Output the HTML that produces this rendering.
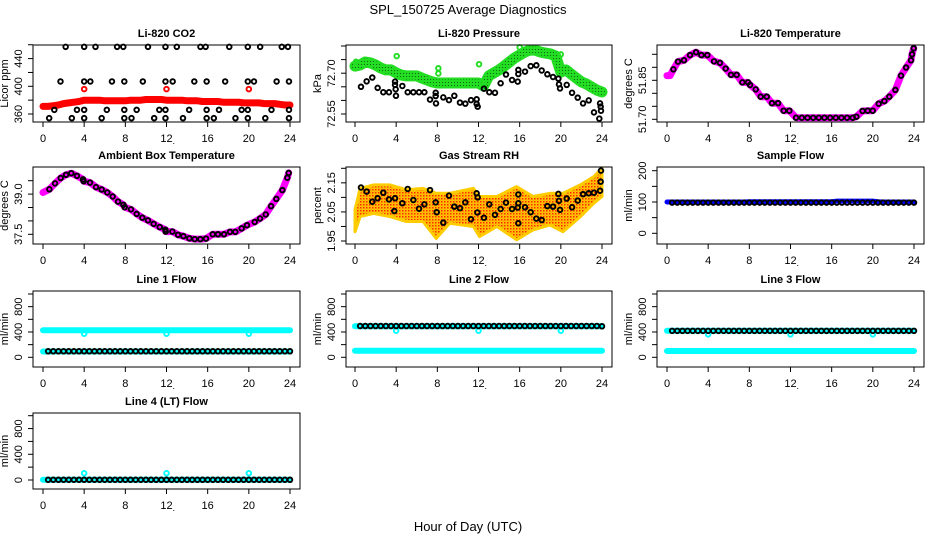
<!DOCTYPE html>
<html><head><meta charset="utf-8"><title>SPL_150725 Average Diagnostics</title>
<style>
html,body{margin:0;padding:0;background:#fff;}
svg{display:block;font-family:"Liberation Sans",Arial,sans-serif;}
</style></head>
<body>
<svg id="chart" width="936" height="540" viewBox="0 0 936 540" xmlns="http://www.w3.org/2000/svg">
<defs>
<pattern id="rhpat" width="3" height="3" patternUnits="userSpaceOnUse"><rect width="3" height="3" fill="#ffcc00"/><rect x="0" y="0" width="1.5" height="1.5" fill="#ff2200"/><rect x="1.5" y="1.5" width="1.5" height="1.5" fill="#ffaa00"/></pattern>
<pattern id="grpat" width="3" height="3" patternUnits="userSpaceOnUse"><rect width="3" height="3" fill="#22dd22"/><rect x="1" y="1" width="1" height="1" fill="#116611"/></pattern>
</defs>
<text x="468" y="14" text-anchor="middle" font-size="13">SPL_150725  Average Diagnostics</text>
<text x="468" y="531" text-anchor="middle" font-size="13">Hour of Day (UTC)</text>
</svg>
<script>
// ---------- data ----------
const xTicks = [0,4,8,12,16,20,24];
const H49 = [0,0.5,1,1.5,2,2.5,3,3.5,4,4.5,5,5.5,6,6.5,7,7.5,8,8.5,9,9.5,10,10.5,11,11.5,12,12.5,13,13.5,14,14.5,15,15.5,16,16.5,17,17.5,18,18.5,19,19.5,20,20.5,21,21.5,22,22.5,23,23.5,24];
const H48 = [0.5,1,1.5,2,2.5,3,3.5,4,4.5,5,5.5,6,6.5,7,7.5,8,8.5,9,9.5,10,10.5,11,11.5,12,12.5,13,13.5,14,14.5,15,15.5,16,16.5,17,17.5,18,18.5,19,19.5,20,20.5,21,21.5,22,22.5,23,23.5,24];
const outlierHours = [4,12,20];

// CO2
const co2Red = [371,371,372,373,375,376,377,378,380,380,380,380,379,379,379,379,379,380,380,380,381,381,381,381,380,380,380,380,379,379,379,378,378,378,378,377,377,377,377,376,376,376,376,375,375,375,374,373,373];
const co2RedOut = [396,396,396];
const co2BlackH = [2.2,4.0,5.1,7.2,7.8,10.2,11.9,13.0,15.3,15.8,18.1,19.9,21.1,23.2,23.8, 1.7,4.0,4.6,6.7,7.9,9.7,11.9,12.6,14.7,15.9,17.7,19.9,20.5,22.7,23.9, 1.1,3.3,4.0,6.2,7.9,9.1,11.3,11.9,14.2,15.9,17.1,19.3,19.9,22.2,23.9, 0.6,2.8,4.0,5.7,7.9,8.6,10.8,11.9,13.6,15.9,16.6,18.7,19.9,21.6,23.9];
const co2BlackV = [457,457,457,457,457,457,457,457,457,457,457,457,457,457,457, 407,407,407,407,407,407,407,407,407,407,407,407,407,407,407, 366,366,366,366,366,366,366,366,366,366,366,366,366,366,366, 354,354,354,354,354,354,354,354,354,354,354,354,354,354,354];

// Pressure
const presGreen = [72.726,72.730,72.741,72.738,72.730,72.719,72.712,72.712,72.701,72.693,72.690,72.690,72.690,72.682,72.675,72.668,72.664,72.664,72.664,72.664,72.664,72.664,72.664,72.664,72.664,72.653,72.690,72.701,72.712,72.726,72.741,72.756,72.767,72.778,72.785,72.785,72.778,72.774,72.771,72.763,72.704,72.712,72.697,72.682,72.668,72.660,72.649,72.638,72.631];
const presGreenOutH = [0.1,4.05,8.1,8.1,12.05,16.0,20.0,12.47];
const presGreenOutV = [72.742,72.763,72.718,72.699,72.733,72.795,72.769,72.657];
const presBlackH = [0.58,1.13,1.68,2.2,2.75,3.3,3.89,3.89,3.95,3.98,4.6,5.12,5.67,6.22,6.74,7.29,7.84,7.84,7.87,8.58,9.13,9.65,10.2,10.72,11.27,11.82,11.82,11.92,12.53,13.05,13.6,14.15,14.67,15.26,15.81,15.87,15.87,16.52,17.07,17.62,18.14,18.69,19.24,19.76,19.82,19.92,20.57,21.09,21.64,22.16,22.71,23.22,23.81,23.87,23.9,23.74];
const presBlackV = [72.650,72.670,72.684,72.646,72.630,72.630,72.669,72.657,72.641,72.617,72.653,72.630,72.630,72.630,72.630,72.603,72.628,72.616,72.589,72.611,72.601,72.617,72.592,72.588,72.601,72.604,72.587,72.577,72.643,72.630,72.628,72.663,72.695,72.675,72.669,72.712,72.697,72.706,72.726,72.729,72.710,72.696,72.686,72.680,72.659,72.644,72.657,72.628,72.610,72.589,72.600,72.556,72.589,72.577,72.562,72.533];

// Li-820 temperature
const ltH = [0,0.3,0.62,1.07,1.65,2.24,2.82,3.34,3.92,4.57,5.15,5.7,6.22,6.77,7.32,7.87,8.07,8.62,9.1,9.69,10.2,10.79,11.34,11.89,12.54,13.1,13.65,14.2,14.75,15.3,15.85,16.4,16.95,17.5,18.05,18.4,19.0,19.5,19.99,20.57,21.12,21.6,22.19,22.74,23.23,23.71,23.81,23.97];
const ltV = [51.868,51.868,51.892,51.922,51.927,51.947,51.958,51.947,51.947,51.923,51.917,51.895,51.871,51.871,51.842,51.842,51.832,51.815,51.787,51.787,51.762,51.762,51.733,51.733,51.706,51.706,51.706,51.706,51.706,51.706,51.706,51.706,51.706,51.706,51.706,51.710,51.732,51.733,51.733,51.760,51.770,51.787,51.813,51.868,51.899,51.927,51.950,51.973];

// Ambient box temperature
const abH = [0,0.62,1.17,1.72,2.24,2.75,3.3,3.89,3.95,4.57,5.15,5.7,6.25,6.77,7.29,7.81,7.94,8.55,9.1,9.65,10.2,10.75,11.34,11.89,11.92,12.57,13.12,13.64,14.22,14.74,15.29,15.84,16.49,17.0,17.59,18.17,18.69,19.3,19.82,20.57,21.09,21.64,22.16,22.67,23.26,23.74,23.87];
const abV = [39.06,39.18,39.40,39.60,39.72,39.78,39.68,39.55,39.48,39.43,39.26,39.17,39.06,38.91,38.72,38.60,38.51,38.43,38.26,38.12,38.02,37.89,37.77,37.67,37.60,37.60,37.48,37.43,37.35,37.32,37.32,37.34,37.50,37.50,37.50,37.59,37.59,37.72,37.84,37.96,38.09,38.24,38.55,38.82,39.15,39.61,39.79];

// Gas stream RH
const rhEnvH = [0,0.5,1.8,3.4,5,6.6,7.9,9.2,11.5,12.1,13.8,15.7,17.3,18.95,20.2,21.9,23.2,24];
const rhHi = [2.057,2.131,2.143,2.143,2.126,2.131,2.114,2.114,2.131,2.103,2.103,2.137,2.103,2.114,2.114,2.143,2.171,2.200];
const rhLo = [1.982,2.034,2.045,2.034,2.017,2.017,1.959,2.011,2.000,1.965,2.000,1.954,1.988,2.005,1.982,2.034,2.080,2.103];
const rhBlackH = [0.58,1.13,1.68,2.2,2.75,3.3,3.89,3.82,4.6,5.12,5.67,6.22,6.74,7.29,7.84,7.94,8.58,9.13,9.65,10.2,10.72,11.27,11.82,11.92,11.89,12.53,13.05,13.6,14.15,14.67,15.26,15.81,15.87,15.87,15.87,16.52,17.07,17.62,18.14,18.69,19.24,19.76,19.82,19.92,20.57,21.09,21.64,22.16,22.71,23.22,23.81,23.87,23.9];
const rhBlackV = [2.134,2.120,2.085,2.097,2.116,2.093,2.097,2.053,2.080,2.129,2.091,2.061,2.076,2.125,2.083,2.049,2.013,2.106,2.068,2.063,2.083,2.025,2.114,2.100,2.048,2.030,2.076,2.040,2.060,2.082,2.060,2.065,2.110,2.080,2.011,2.066,2.049,2.027,2.022,2.070,2.068,2.112,2.088,2.057,2.096,2.066,2.089,2.111,2.114,2.116,2.123,2.154,2.192];

// Sample flow
const sfBlue = [100,100,100,100,100,100,100,100,100,100,100,100,100,100,100,100,101,101,101,101,101,101,101,101,101,101,101,101,101,101,101,101,101,103,103,103,103,103,103,103,103,101,100,100,100,100,100,100,100];
const sfBlack = [98,98,98,98,98,98,98,98,98,98,98,98,98,98,98,98,98,98,98,98,98,98,98,98,98,98,98,98,98,98,98,98,98,98,98,98,98,98,98,98,98,98,98,98,98,98,98,98];

// Line flows
const l1CyanHi = [428,428,428,428,428,428,428,428,428,428,428,428,428,428,428,428,428,428,428,428,428,428,428,428,428,428,428,428,428,428,428,428,428,428,428,428,428,428,428,428,428,428,428,428,428,428,428,428,428];
const l1CyanLo = [92,92,92,92,92,92,92,92,92,92,92,92,92,92,92,92,92,92,92,92,92,92,92,92,92,92,92,92,92,92,92,92,92,92,92,92,92,92,92,92,92,92,92,92,92,92,92,92,92];
const l1Black = [95,95,95,95,95,95,95,95,95,95,95,95,95,95,95,95,95,95,95,95,95,95,95,95,95,95,95,95,95,95,95,95,95,95,95,95,95,95,95,95,95,95,95,95,95,95,95,95];
const l1Out = [373,373,373];

const l2CyanHi = [490,490,490,490,490,490,490,490,490,490,490,490,490,490,490,490,490,490,490,490,490,490,490,490,490,490,490,490,490,490,490,490,490,490,490,490,490,490,490,490,490,490,490,490,490,490,490,490,490];
const l2CyanLo = [104,104,104,104,104,104,104,104,104,104,104,104,104,104,104,104,104,104,104,104,104,104,104,104,104,104,104,104,104,104,104,104,104,104,104,104,104,104,104,104,104,104,104,104,104,104,104,104,104];
const l2Black = [494,494,494,494,494,494,494,494,494,494,494,494,494,494,494,494,494,494,494,494,494,494,494,494,494,494,494,494,494,494,494,494,494,494,494,494,494,494,494,494,494,494,494,494,494,494,494,490];
const l2Out = [420,420,420];

const l3CyanHi = [420,420,420,420,420,420,420,420,420,420,420,420,420,420,420,420,420,420,420,420,420,420,420,420,420,420,420,420,420,420,420,420,420,420,420,420,420,420,420,420,420,420,420,420,420,420,420,420,420];
const l3CyanLo = [100,100,100,100,100,100,100,100,100,100,100,100,100,100,100,100,100,100,100,100,100,100,100,100,100,100,100,100,100,100,100,100,100,100,100,100,100,100,100,100,100,100,100,100,100,100,100,100,100];
const l3Black = [418,418,418,418,418,418,418,418,418,418,418,418,418,418,418,418,418,418,418,418,418,418,418,418,418,418,418,418,418,418,418,418,418,418,418,418,418,418,418,418,418,418,418,418,418,418,418,418];
const l3Out = [363,363,363];

const l4Cyan = [5,5,5,5,5,5,5,5,5,5,5,5,5,5,5,5,5,5,5,5,5,5,5,5,5,5,5,5,5,5,5,5,5,5,5,5,5,5,5,5,5,5,5,5,5,5,5,5,5];
const l4Black = [3,3,3,3,3,3,3,3,3,3,3,3,3,3,3,3,3,3,3,3,3,3,3,3,3,3,3,3,3,3,3,3,3,3,3,3,3,3,3,3,3,3,3,3,3,3,3,3];
const l4Out = [105,105,105];

// tick values / labels
const co2Ticks = [360,380,400,420,440,460], co2Labels = ["360","","400","","440",""];
const presTicks = [72.55,72.60,72.65,72.70,72.75,72.80], presLabels = ["72.55","","","72.70","",""];
const ltTicks = [51.70,51.75,51.80,51.85,51.90,51.95], ltLabels = ["51.70","","","51.85","",""];
const abTicks = [37.5,38.0,38.5,39.0,39.5], abLabels = ["37.5","","","39.0",""];
const rhTicks = [1.95,2.00,2.05,2.10,2.15,2.20], rhLabels = ["1.95","","2.05","","2.15",""];
const sfTicks = [0,50,100,150,200], sfLabels = ["0","","100","","200"];
const flTicks = [0,200,400,600,800,1000], flLabels = ["0","","400","","800",""];

// ---------- drawing ----------
const NS = "http://www.w3.org/2000/svg";
const svg = document.getElementById("chart");
function mk(tag, attrs, parent){ const e=document.createElementNS(NS,tag); for(const k in attrs) e.setAttribute(k,attrs[k]); (parent||svg).appendChild(e); return e; }

const COLS = [{x0:33,x1:300,h0:43,h24:290},{x0:346,x1:612,h0:355,h24:602},{x0:657,x1:924,h0:667,h24:914}];
const ROWS = [{y0:45,y1:122},{y0:167,y1:244},{y0:291,y1:367},{y0:413,y1:489}];

function makePanel(name, title, ylab, c, r, v1, p1, v2, p2, ticks, labels){
  const col=COLS[c], row=ROWS[r];
  const g = mk("g",{});
  
  
  const xs = h => col.h0 + (h/24)*(col.h24-col.h0);
  const ys = v => p1 + (v-v1)*(p2-p1)/(v2-v1);
  const plot = mk("g",{},g);
  const t = mk("text",{x:(col.x0+col.x1)/2, y:row.y0-8, "text-anchor":"middle","font-size":"11","font-weight":"bold"},g);
  t.textContent = title;
  
  
  const box = mk("rect",{x:col.x0,y:row.y0,width:col.x1-col.x0,height:row.y1-row.y0,fill:"none",stroke:"#000","stroke-width":"1"},g);
  
  
  const xa = mk("g",{},g);
  
  
  mk("line",{x1:xs(0),x2:xs(24),y1:row.y1,y2:row.y1,stroke:"#000"},xa);
  xTicks.forEach(h=>{
    mk("line",{x1:xs(h),x2:xs(h),y1:row.y1,y2:row.y1+5,stroke:"#000"},xa);
    const tl = mk("text",{x:xs(h),y:row.y1+20,"text-anchor":"middle","font-size":"11"},xa);
    tl.textContent = String(h);
  });
  const dot = mk("text",{x:xs(12)+6,y:row.y1+22,"font-size":"9"},xa); dot.textContent=".";
  const ya = mk("g",{},g);
  
  
  mk("line",{x1:col.x0,x2:col.x0,y1:ys(ticks[0]),y2:ys(ticks[ticks.length-1]),stroke:"#000"},ya);
  ticks.forEach((v,i)=>{
    const y=ys(v);
    mk("line",{x1:col.x0-5,x2:col.x0,y1:y,y2:y,stroke:"#000"},ya);
    if(labels[i]){ const tl=mk("text",{x:col.x0-11,y:y,"text-anchor":"middle","font-size":"11",transform:`rotate(-90 ${col.x0-11} ${y})`},ya); tl.textContent=labels[i]; }
  });
  const yt = mk("text",{x:col.x0-25,y:(row.y0+row.y1)/2,"text-anchor":"middle","font-size":"11",transform:`rotate(-90 ${col.x0-25} ${(row.y0+row.y1)/2})`},g);
  yt.textContent = ylab;
  
  
  return {xs, ys, plot};
}
function band(P, hs, vs, color, w, name){
  const pts = hs.map((h,i)=>P.xs(h).toFixed(1)+","+P.ys(vs[i]).toFixed(1)).join(" ");
  const pl = mk("polyline",{points:pts,fill:"none",stroke:color,"stroke-width":w,"stroke-linecap":"round","stroke-linejoin":"round"},P.plot);
  
  
}
function circles(P, hs, vs, color, name, r, sw){
  const g = mk("g",{},P.plot);
  
  
  hs.forEach((h,i)=>{
    const c = mk("circle",{cx:P.xs(h),cy:P.ys(vs[i]),r:r||2.3,fill:"none",stroke:color,"stroke-width":sw||1.9},g);
    
    
  });
}

let P = makePanel("co2","Li-820 CO2","Licor ppm",0,0,360,114,440,58.6,co2Ticks,co2Labels);
band(P,H49,co2Red,"#ff0000",7,"co2-red-series");
circles(P,outlierHours,co2RedOut,"#ff0000","co2-red-outliers");
circles(P,co2BlackH,co2BlackV,"#000","co2-black-series");

P = makePanel("pressure","Li-820 Pressure","kPa",1,0,72.55,114,72.80,46,presTicks,presLabels);
band(P,H49,presGreen,"#22dd22",11,"pressure-green-series");
band(P,H49,presGreen,"url(#grpat)",7,"pressure-green-texture");
circles(P,presGreenOutH,presGreenOutV,"#22dd22","pressure-green-outliers");
circles(P,presBlackH,presBlackV,"#000","pressure-black-series");

P = makePanel("li820-temp","Li-820 Temperature","degrees C",2,0,51.70,119.3,51.95,54.3,ltTicks,ltLabels);
band(P,ltH,ltV,"#ff00ff",7,"li820-temp-magenta-series");
circles(P,ltH.slice(2),ltV.slice(2),"#000","li820-temp-black-series");

P = makePanel("ambient-temp","Ambient Box Temperature","degrees C",0,1,37.5,234.3,39.5,180.7,abTicks,abLabels);
band(P,abH,abV,"#ff00ff",7,"ambient-temp-magenta-series");
circles(P,abH.slice(1),abV.slice(1),"#000","ambient-temp-black-series");

P = makePanel("rh","Gas Stream RH","percent",1,1,1.95,241,2.20,168.3,rhTicks,rhLabels);
{
  const pts = rhEnvH.map((h,i)=>P.xs(h).toFixed(1)+","+P.ys(rhHi[i]).toFixed(1)).concat(rhEnvH.map((h,i)=>P.xs(h).toFixed(1)+","+P.ys(rhLo[i]).toFixed(1)).reverse()).join(" ");
  const pg = mk("polygon",{points:pts,fill:"url(#rhpat)",stroke:"#ffcc00","stroke-width":"3","stroke-linejoin":"round"},P.plot);
  
  
}
circles(P,rhBlackH,rhBlackV,"#000","rh-black-series");

P = makePanel("sample-flow","Sample Flow","ml/min",2,1,0,233.3,200,170.7,sfTicks,sfLabels);
band(P,H49,sfBlue,"#0000ff",5,"sample-flow-blue-series");
circles(P,H48,sfBlack,"#000","sample-flow-black-series");

P = makePanel("line1-flow","Line 1 Flow","ml/min",0,2,0,357.3,1000,294,flTicks,flLabels);
band(P,H49,l1CyanHi,"#00ffff",6,"line1-cyan-upper-series");
band(P,H49,l1CyanLo,"#00ffff",6,"line1-cyan-lower-series");
circles(P,outlierHours,l1Out,"#00ffff","line1-cyan-outliers");
circles(P,H48,l1Black,"#000","line1-black-series");

P = makePanel("line2-flow","Line 2 Flow","ml/min",1,2,0,357.3,1000,294,flTicks,flLabels);
band(P,H49,l2CyanHi,"#00ffff",6,"line2-cyan-upper-series");
band(P,H49,l2CyanLo,"#00ffff",6,"line2-cyan-lower-series");
circles(P,outlierHours,l2Out,"#00ffff","line2-cyan-outliers");
circles(P,H48,l2Black,"#000","line2-black-series");

P = makePanel("line3-flow","Line 3 Flow","ml/min",2,2,0,357.3,1000,294,flTicks,flLabels);
band(P,H49,l3CyanHi,"#00ffff",6,"line3-cyan-upper-series");
band(P,H49,l3CyanLo,"#00ffff",6,"line3-cyan-lower-series");
circles(P,outlierHours,l3Out,"#00ffff","line3-cyan-outliers");
circles(P,H48,l3Black,"#000","line3-black-series");

P = makePanel("line4-flow","Line 4 (LT) Flow","ml/min",0,3,0,480,1000,415.7,flTicks,flLabels);
band(P,H49,l4Cyan,"#00ffff",6,"line4-cyan-series");
circles(P,outlierHours,l4Out,"#00ffff","line4-cyan-outliers");
circles(P,H48,l4Black,"#000","line4-black-series");
</script>
</body></html>
